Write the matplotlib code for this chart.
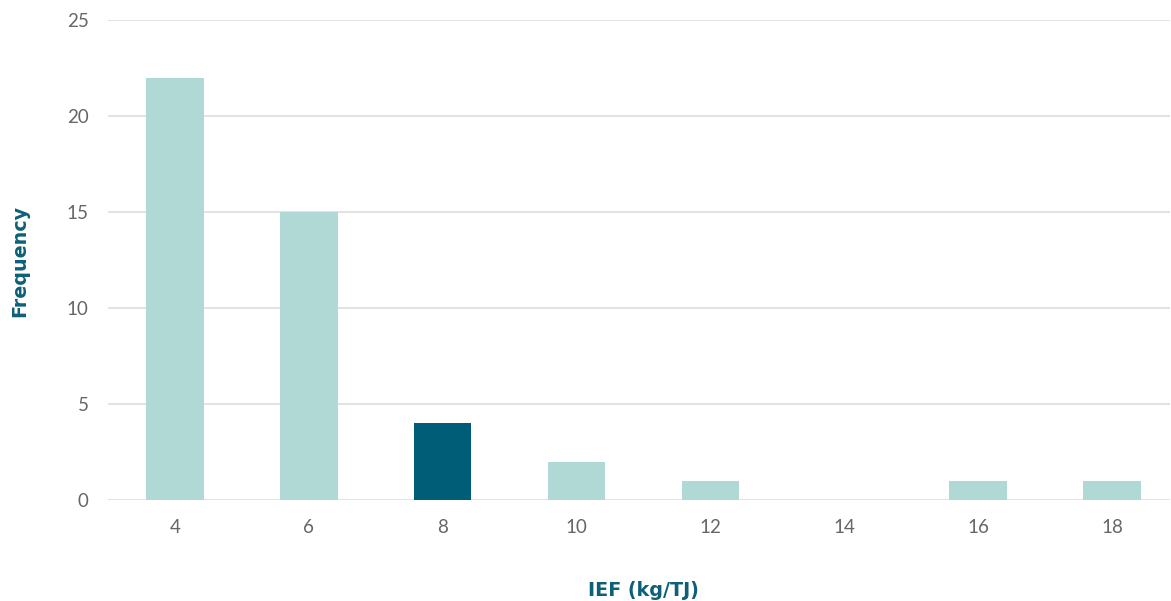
import matplotlib
matplotlib.use("Agg")
import matplotlib.pyplot as plt

ief = ['4', '6', '8', '10', '12', '14', '16', '18']
frequency = [22, 15, 4, 2, 1, 0, 1, 1]
highlight = '8'

light = '#b0d8d4'
dark = '#005d78'
colors = [dark if c == highlight else light for c in ief]

fig = plt.figure(figsize=(11.71, 6.01), dpi=100)
ax = fig.add_axes([108 / 1171, 101 / 601, 1062 / 1171, 480 / 601])

x = range(len(ief))
ax.bar(x, frequency, width=0.43, color=colors, zorder=3)

ax.set_xlim(-0.5, len(ief) - 0.567)
ax.set_ylim(0, 25)
ax.set_yticks(range(0, 26, 5))
ax.set_xticks(list(x))
ax.set_xticklabels(ief)
ax.grid(axis='y', color='#dddddd', linewidth=1.2, zorder=0)
for s in ax.spines.values():
    s.set_visible(False)
ax.tick_params(length=0, labelsize=13.5, labelcolor='#666666', pad=14)
for lab in ax.get_xticklabels() + ax.get_yticklabels():
    lab.set_fontfamily('Lato')

fig.text(643 / 1171, 1 - 590 / 601, 'IEF (kg/TJ)', fontsize=13.8, fontweight='bold',
         color='#0e5f78', family='DejaVu Sans', ha='center', va='center')
fig.text(20 / 1171, 1 - 261 / 601, 'Frequency', fontsize=13.8, fontweight='bold',
         color='#0e5f78', family='DejaVu Sans', ha='center', va='center', rotation=90)

fig.savefig('out.png', dpi=100)
